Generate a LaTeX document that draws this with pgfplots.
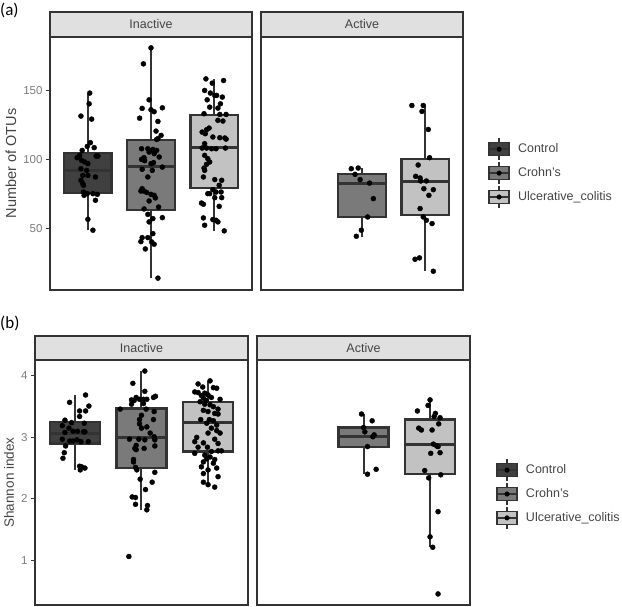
\documentclass[border=0pt]{standalone}
\usepackage{pgfplots}
\pgfplotsset{compat=1.18}
\usepgfplotslibrary{statistics}
\usepackage{fontspec}
\setmainfont{Liberation Sans}
\newfontfamily\calib{Carlito}
\definecolor{cctrl}{HTML}{404040}
\definecolor{ccd}{HTML}{7A7A7A}
\definecolor{cuc}{HTML}{C2C2C2}
\definecolor{bline}{HTML}{333333}
\definecolor{stripc}{HTML}{E0E0E0}
\definecolor{tickc}{HTML}{7C7C7C}
\definecolor{ttl}{HTML}{444444}
\newcommand\legkey[1]{%
  \draw[bline, line width=1.4pt] (10pt,-11pt) -- (10pt,11pt);
  \draw[bline, line width=1.4pt, fill=#1] (0pt,-6.5pt) rectangle (20pt,6.5pt);
  \draw[bline, line width=1.8pt] (0pt,0pt) -- (20pt,0pt);
  \fill[black] (10pt,0pt) circle (2.3pt);
}
\pgfplotsset{
  facet/.style={
    scale only axis, xmin=0.4, xmax=3.6, xtick=\empty,
    axis line style={draw=bline, line width=1.8pt},
    tick align=outside, ytick pos=left,
    major tick length=4pt,
    every tick/.style={draw=bline, line width=1pt},
    yticklabel={\pgfmathprintnumber[assume math mode=true]{\tick}},
    yticklabel style={font=\fontsize{11.5}{13}\selectfont, text=tickc},
    clip=false,
    boxplot/draw direction=y,
  },
  bx/.style={draw=bline, line width=2.2pt, fill=#1, solid, mark=none,
     boxplot/whisker extend=0, boxplot/box extend=0.75,
     boxplot/every whisker/.style={line width=2pt},
     boxplot/every box/.style={line width=2.2pt},
     boxplot/every median/.style={line width=3pt}},
  pts/.style={only marks, mark=*, mark size=2.5pt, draw=black, fill=black},
  legkeys/.style={
    legend style={draw=none, fill=none, font=\fontsize{12.5}{14}\selectfont, text=ttl,
      row sep=0.5pt, column sep=6pt, inner sep=0pt, anchor=west},
    legend cell align=left},
}
\begin{document}
\begin{tikzpicture}
\useasboundingbox (0,0) rectangle (622pt,607pt);
% ---------------- (a) -----------------
\begin{axis}[facet, name=ai, at={(50pt,317pt)}, anchor=south west,
  width=202pt, height=253pt, ymin=5.2, ymax=188.8, ytick={50,100,150},
  ylabel={Number of OTUs},
  ylabel style={at={(rel axis cs:-0.193,0.5)}, anchor=center, font=\fontsize{14.5}{16}\selectfont, text=ttl}]
\addplot[bx=cctrl, boxplot prepared={draw position=1, lower whisker=48.5, lower quartile=75.5, median=91.8, upper quartile=104.9, upper whisker=147.6}] coordinates {};
\addplot[bx=ccd, boxplot prepared={draw position=2, lower whisker=13.8, lower quartile=63.5, median=94.5, upper quartile=114.3, upper whisker=180.9}] coordinates {};
\addplot[bx=cuc, boxplot prepared={draw position=3, lower whisker=48.1, lower quartile=79.2, median=108.5, upper quartile=131.9, upper whisker=158.4}] coordinates {};
\addplot[pts] coordinates {
(1.03,148.1)(1.02,140.3)(0.89,131.4)(1.06,129.2)(1.04,112.1)(0.99,109.4)(1.10,108.5)(0.91,106.5)(0.87,102.9)(0.83,101.2)(1.13,102.4)(1.16,102.4)(0.90,99.3)(0.95,98.1)(1.00,96.9)(0.89,93.2)(0.98,92.0)(0.92,88.4)(1.00,88.4)(1.12,87.2)(0.89,84.8)(0.92,82.4)(0.93,81.2)(0.93,76.3)(0.96,75.1)(0.99,75.1)(0.94,73.9)(1.08,75.1)(1.15,74.6)(1.12,70.3)(1.00,56.5)(1.08,48.6)
};
\addplot[pts] coordinates {
(2.00,180.9)(1.88,169.3)(1.97,143.2)(1.86,137.0)(2.00,136.0)(2.05,134.6)(2.18,137.4)(1.82,129.9)(2.11,127.5)(2.08,120.5)(2.16,117.4)(2.11,115.0)(2.09,114.5)(1.85,107.7)(1.95,107.7)(2.03,107.2)(2.09,106.5)(1.97,105.3)(2.05,104.1)(1.89,101.2)(1.85,100.0)(2.13,101.7)(2.04,97.6)(2.00,96.9)(1.86,92.8)(2.18,94.4)(1.95,87.2)(1.86,78.7)(1.84,77.0)(1.89,77.0)(2.00,74.6)(2.05,73.9)(1.97,69.8)(2.12,65.4)(1.89,64.0)(1.95,60.1)(2.03,57.0)(2.18,57.7)(1.97,54.6)(1.86,43.2)(1.95,43.2)(2.03,46.1)(1.84,40.3)(2.01,40.1)(2.05,38.4)(1.91,35.0)(2.11,13.8)(1.93,76.0)(2.07,72.0)(1.90,99.0)(2.02,92.0)
};
\addplot[pts] coordinates {
(2.87,158.4)(3.15,157.2)(2.97,155.3)(2.85,150.0)(2.94,148.1)(3.01,146.4)(3.04,146.4)(3.13,145.2)(2.89,143.2)(3.10,140.3)(2.93,137.9)(3.06,137.2)(2.84,133.1)(3.19,132.6)(3.09,132.6)(3.06,128.3)(3.14,127.8)(2.92,122.7)(2.88,121.5)(2.81,119.8)(2.86,118.6)(2.98,116.2)(3.09,115.7)(3.17,115.5)(3.19,114.7)(2.85,111.4)(2.88,108.2)(2.81,108.2)(2.96,107.7)(3.03,107.7)(3.18,108.2)(2.85,102.9)(2.90,100.5)(2.93,98.1)(2.88,96.4)(2.84,93.7)(2.85,92.0)(2.83,87.2)(3.01,85.3)(3.12,84.8)(3.08,81.2)(2.98,78.0)(2.93,75.1)(2.90,75.1)(3.03,76.3)(3.11,76.3)(3.01,72.2)(3.12,72.2)(2.80,68.3)(2.83,67.4)(3.08,65.9)(2.83,57.5)(2.98,56.3)(3.03,55.8)(3.06,54.6)(2.85,52.2)(3.16,48.1)
};
\end{axis}
\begin{axis}[facet, name=aa, at={(261pt,317pt)}, anchor=south west,
  width=202pt, height=253pt, ymin=5.2, ymax=188.8, ytick=\empty, legkeys,
  legend style={at={(1.124,0.462)}}]
\addlegendimage{legend image code/.code={\legkey{cctrl}}}
\addlegendentry{Control}
\addlegendimage{legend image code/.code={\legkey{ccd}}}
\addlegendentry{Crohn's}
\addlegendimage{legend image code/.code={\legkey{cuc}}}
\addlegendentry{Ulcerative\_colitis}
\addplot[bx=ccd, forget plot, boxplot prepared={draw position=2, lower whisker=44.0, lower quartile=58.2, median=82.8, upper quartile=89.6, upper whisker=93.7}] coordinates {};
\addplot[bx=cuc, forget plot, boxplot prepared={draw position=3, lower whisker=18.8, lower quartile=59.9, median=83.6, upper quartile=100.0, upper whisker=139.1}] coordinates {};
\addplot[pts, forget plot] coordinates {
(1.83,93.2)(1.94,93.7)(1.89,89.1)(1.97,85.3)(2.12,82.8)(2.18,71.5)(2.09,58.2)(1.99,48.6)(1.91,44.2)
};
\addplot[pts, forget plot] coordinates {
(2.79,139.1)(2.97,139.1)(2.95,134.8)(3.05,121.7)(3.07,101.2)(2.89,95.9)(2.85,87.7)(2.92,86.5)(2.93,84.3)(3.02,84.3)(2.98,78.7)(3.13,78.0)(3.06,73.9)(2.92,64.3)(2.97,58.2)(3.02,55.8)(3.11,53.4)(2.84,27.5)(2.91,28.5)(3.13,18.8)
};
\end{axis}
\foreach \n/\t in {ai/Inactive, aa/Active}{
  \draw[fill=stripc, draw=bline, line width=1.8pt] (\n.north west) rectangle ([yshift=25pt]\n.north east);
  \node[font=\fontsize{12.5}{14}\selectfont, text=ttl] at ([yshift=12.5pt]\n.north) {\t};
}
\node[anchor=north west, inner sep=0pt, font=\calib\fontsize{17}{20}\selectfont] at (0pt,604pt) {(a)};
% ---------------- (b) -----------------
\begin{axis}[facet, name=bi, at={(35pt,2pt)}, anchor=south west,
  width=213pt, height=245pt, ymin=0.27, ymax=4.26, ytick={1,2,3,4},
  ylabel={Shannon index},
  ylabel style={at={(rel axis cs:-0.122,0.5)}, anchor=center, font=\fontsize{13.5}{15}\selectfont, text=ttl}]
\addplot[bx=cctrl, boxplot prepared={draw position=1, lower whisker=2.47, lower quartile=2.90, median=3.07, upper quartile=3.25, upper whisker=3.69}] coordinates {};
\addplot[bx=ccd, boxplot prepared={draw position=2, lower whisker=1.82, lower quartile=2.50, median=3.00, upper quartile=3.47, upper whisker=4.08}] coordinates {};
\addplot[bx=cuc, boxplot prepared={draw position=3, lower whisker=2.19, lower quartile=2.77, median=3.24, upper quartile=3.57, upper whisker=3.92}] coordinates {};
\addplot[pts] coordinates {
(1.16,3.69)(0.92,3.57)(1.21,3.51)(1.07,3.43)(1.16,3.43)(1.07,3.34)(0.85,3.28)(0.95,3.24)(1.14,3.23)(0.81,3.19)(0.91,3.15)(0.97,3.10)(1.04,3.10)(0.85,3.08)(1.13,3.09)(1.15,3.09)(0.81,2.97)(0.92,2.94)(0.97,2.94)(1.03,2.96)(1.09,2.93)(1.20,2.93)(0.86,2.86)(0.84,2.75)(0.82,2.66)(1.07,2.53)(1.10,2.52)(1.15,2.50)(1.08,2.47)
};
\addplot[pts] coordinates {
(2.05,4.08)(1.87,3.88)(2.05,3.75)(1.92,3.65)(1.85,3.61)(1.89,3.60)(1.97,3.62)(2.03,3.62)(2.08,3.62)(2.18,3.65)(2.21,3.67)(1.85,3.54)(2.03,3.55)(1.68,3.46)(2.07,3.46)(2.19,3.42)(2.00,3.36)(1.97,3.29)(2.18,3.29)(1.97,3.22)(2.08,3.17)(2.00,3.15)(2.13,3.07)(2.19,3.01)(1.82,2.97)(1.96,2.97)(2.05,2.96)(2.20,2.96)(1.92,2.87)(2.20,2.86)(1.90,2.82)(1.92,2.80)(2.04,2.82)(1.88,2.64)(1.88,2.60)(1.91,2.51)(1.93,2.47)(1.98,2.32)(2.20,2.43)(2.16,2.27)(2.06,2.15)(1.86,2.03)(1.91,2.02)(1.91,1.91)(2.09,1.89)(2.08,1.82)(1.81,1.06)
};
\addplot[pts] coordinates {
(3.03,3.92)(2.85,3.87)(2.92,3.82)(3.08,3.81)(3.13,3.80)(2.80,3.74)(2.85,3.73)(2.95,3.72)(2.90,3.68)(3.00,3.69)(2.93,3.64)(3.05,3.65)(3.18,3.62)(2.97,3.60)(2.88,3.58)(2.95,3.54)(3.03,3.53)(3.08,3.50)(3.15,3.46)(2.93,3.44)(3.00,3.42)(3.10,3.39)(3.15,3.38)(2.89,3.29)(3.02,3.29)(3.08,3.27)(2.98,3.23)(3.13,3.20)(3.05,3.15)(3.13,3.11)(3.18,3.07)(3.00,3.07)(2.83,3.00)(3.10,2.97)(2.80,2.93)(2.93,2.91)(3.15,2.90)(2.85,2.84)(2.99,2.84)(3.20,2.78)(3.05,2.77)(3.15,2.78)(2.80,2.74)(2.95,2.71)(3.03,2.68)(2.98,2.65)(3.10,2.64)(2.93,2.60)(3.08,2.58)(2.90,2.52)(3.13,2.50)(3.00,2.47)(2.93,2.41)(3.15,2.36)(2.93,2.27)(3.00,2.23)(3.10,2.19)
};
\end{axis}
\begin{axis}[facet, name=ba, at={(257pt,2pt)}, anchor=south west,
  width=213pt, height=245pt, ymin=0.27, ymax=4.26, ytick=\empty, legkeys,
  legend style={at={(1.122,0.453)}}]
\addlegendimage{legend image code/.code={\legkey{cctrl}}}
\addlegendentry{Control}
\addlegendimage{legend image code/.code={\legkey{ccd}}}
\addlegendentry{Crohn's}
\addlegendimage{legend image code/.code={\legkey{cuc}}}
\addlegendentry{Ulcerative\_colitis}
\addplot[bx=ccd, forget plot, boxplot prepared={draw position=2, lower whisker=2.40, lower quartile=2.84, median=3.02, upper quartile=3.16, upper whisker=3.38}] coordinates {};
\addplot[bx=cuc, forget plot, boxplot prepared={draw position=3, lower whisker=1.21, lower quartile=2.40, median=2.89, upper quartile=3.29, upper whisker=3.61}] coordinates {};
\addplot[pts, forget plot] coordinates {
(1.97,3.38)(2.13,3.27)(2.00,3.16)(2.02,3.09)(2.16,3.04)(2.14,3.01)(2.06,2.85)(2.19,2.48)(2.06,2.40)
};
\addplot[pts, forget plot] coordinates {
(3.00,3.61)(2.97,3.52)(2.81,3.43)(3.08,3.39)(3.06,3.34)(3.15,3.32)(3.13,3.22)(2.83,3.15)(2.87,3.12)(3.03,3.12)(3.05,2.89)(3.10,2.86)(3.12,2.85)(3.01,2.74)(3.15,2.75)(2.92,2.46)(3.16,2.39)(2.98,2.34)(3.12,1.79)(3.00,1.38)(3.04,1.21)(3.12,0.45)
};
\end{axis}
\foreach \n/\t in {bi/Inactive, ba/Active}{
  \draw[fill=stripc, draw=bline, line width=1.8pt] (\n.north west) rectangle ([yshift=24pt]\n.north east);
  \node[font=\fontsize{12.5}{14}\selectfont, text=ttl] at ([yshift=12pt]\n.north) {\t};
}
\node[anchor=north west, inner sep=0pt, font=\calib\fontsize{17}{20}\selectfont] at (0pt,291pt) {(b)};
\end{tikzpicture}
\end{document}
